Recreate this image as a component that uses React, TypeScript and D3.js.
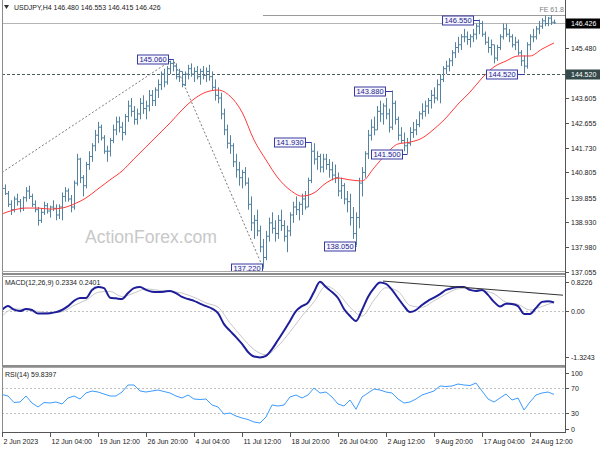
import React from "react";
import * as d3 from "d3";

// ---------- data ----------
const symbolTitle = "USDJPY,H4  146.480 146.553 146.415 146.426";
const macdTitle = "MACD(12,26,9) 0.2334 0.2401";
const rsiTitle = "RSI(14) 59.8397";
const watermark = "ActionForex.com";

const xLabels = [
  "2 Jun 2023", "12 Jun 04:00", "19 Jun 12:00", "26 Jun 20:00", "4 Jul 04:00", "11 Jul 12:00",
  "18 Jul 20:00", "26 Jul 04:00", "2 Aug 12:00", "9 Aug 20:00", "17 Aug 04:00", "24 Aug 12:00",
];
const xLabelEvery = 16; // slots between time labels

const firstOpen = 140.3;
const highs = [
  140.45, 140.35, 140.1, 139.75, 139.9, 140.0, 139.8, 139.9, 140.25, 140.3,
  140.0, 139.75, 139.5, 139.45, 139.7, 139.65, 139.55, 139.75, 139.6, 139.6,
  140.05, 140.25, 140.2, 139.95, 140.5, 141.5, 141.35, 140.7, 141.2, 141.6,
  141.9, 142.4, 142.7, 142.6, 142.2, 141.8, 142.1, 142.6, 142.9, 142.9,
  142.7, 143.0, 143.5, 143.6, 143.3, 143.2, 143.6, 143.7, 143.5, 143.9,
  143.9, 144.0, 144.3, 144.6, 144.7, 144.8, 145.0, 145.06, 144.9, 144.7,
  144.6, 144.6, 144.85, 144.9, 144.75, 144.8, 144.7, 144.8, 144.75, 144.85,
  144.6, 144.3, 144.0, 143.8, 143.2, 142.6, 142.2, 141.9, 141.5, 141.2,
  140.9, 141.0, 140.6, 139.9, 139.2, 139.4, 138.8, 138.3, 138.6, 139.1,
  139.3, 139.0, 139.2, 139.4, 139.0, 138.8, 139.3, 139.7, 139.9, 139.7,
  140.0, 140.1, 140.6, 141.93, 141.9, 141.6, 141.5, 141.5, 141.5, 141.3,
  141.2, 141.1, 140.8, 140.6, 140.4, 140.1, 140.0, 139.5, 139.3, 140.6,
  141.0, 141.6, 142.4, 142.8, 142.9, 143.3, 143.5, 143.4, 143.6, 143.2,
  143.88, 143.5, 142.9, 142.5, 142.3, 142.1, 142.5, 142.7, 142.8, 143.1,
  143.4, 143.5, 143.6, 143.9, 144.0, 144.3, 144.5, 144.8, 145.0, 145.1,
  145.4, 145.7, 145.9, 146.0, 146.2, 146.1, 146.0, 146.2, 146.4, 146.55,
  146.5, 146.1, 145.9, 145.8, 145.6, 145.6, 146.0, 146.4, 146.4, 146.2,
  146.0, 145.9, 145.8, 145.4, 145.2, 145.7, 146.0, 146.2, 146.3, 146.5,
  146.6, 146.7, 146.65, 146.72, 146.55,
];
const lows = [
  140.0, 139.95, 139.5, 139.2, 139.3, 139.55, 139.3, 139.35, 139.7, 139.8,
  139.5, 139.3, 138.8, 138.9, 139.2, 139.25, 139.1, 139.35, 139.0, 139.05,
  139.0, 139.7, 139.7, 139.3, 139.4, 140.3, 140.4, 139.9, 140.2, 140.9,
  141.2, 141.6, 141.9, 142.0, 141.5, 141.2, 141.4, 141.9, 142.2, 142.3,
  142.0, 142.2, 142.7, 142.9, 142.6, 142.6, 142.8, 143.0, 142.8, 143.1,
  143.3, 143.3, 143.6, 143.9, 144.0, 144.1, 144.5, 144.6, 144.3, 144.2,
  144.0, 144.05, 144.3, 144.4, 144.2, 144.3, 144.1, 144.3, 144.2, 144.25,
  143.9, 143.5, 143.4, 142.8, 142.2, 141.7, 141.5, 141.0, 140.6, 140.3,
  140.2, 140.3, 139.4, 138.6, 138.3, 138.4, 137.8, 137.22, 137.5, 138.2,
  138.5, 138.2, 138.3, 138.6, 138.2, 137.8, 138.4, 138.9, 139.2, 139.0,
  139.2, 139.4, 139.5, 140.4, 141.1, 140.9, 140.8, 140.8, 140.9, 140.6,
  140.5, 140.4, 139.9, 139.8, 139.6, 139.3, 138.8, 138.3, 138.05, 138.7,
  139.9, 140.6, 141.3, 142.0, 142.2, 142.4, 142.7, 142.6, 142.8, 142.3,
  142.4, 142.6, 142.0, 141.9, 141.6, 141.5, 141.8, 142.1, 142.2, 142.5,
  142.8, 142.9, 143.0, 143.2, 143.4, 143.5, 143.4, 144.2, 144.5, 144.6,
  144.8, 145.1, 145.3, 145.4, 145.7, 145.6, 145.5, 145.7, 145.8, 146.0,
  145.9, 145.6, 145.3, 145.2, 144.9, 145.0, 145.4, 145.8, 145.9, 145.7,
  145.5, 145.4, 145.2, 144.8, 144.52, 144.7, 145.4, 145.7, 145.8, 146.0,
  146.2, 146.3, 146.3, 146.35, 146.38,
];
const closes = [
  140.2, 140.0, 139.6, 139.4, 139.8, 139.7, 139.45, 139.85, 140.1, 139.9,
  139.6, 139.4, 139.0, 139.3, 139.55, 139.35, 139.5, 139.45, 139.2, 139.5,
  139.9, 140.1, 139.8, 139.5, 140.4, 141.3, 140.6, 140.3, 141.1, 141.4,
  141.8, 142.2, 142.5, 142.1, 141.6, 141.6, 142.0, 142.4, 142.7, 142.5,
  142.3, 142.9, 143.3, 143.1, 142.8, 143.0, 143.4, 143.2, 143.3, 143.7,
  143.5, 143.9, 144.1, 144.5, 144.2, 144.7, 144.9, 144.8, 144.4, 144.6,
  144.1, 144.5, 144.7, 144.5, 144.6, 144.4, 144.6, 144.45, 144.6, 144.4,
  144.0, 143.7, 143.6, 143.0, 142.4, 141.9, 141.8, 141.2, 140.9, 140.6,
  140.8, 140.4, 139.6, 138.9, 139.0, 138.6, 138.0, 137.6, 138.4, 138.9,
  138.7, 138.5, 139.0, 138.8, 138.4, 138.6, 139.2, 139.5, 139.4, 139.6,
  139.8, 139.5, 140.5, 141.6, 141.3, 141.4, 141.0, 141.3, 141.1, 140.9,
  140.7, 140.6, 140.1, 140.3, 139.8, 139.7, 139.1, 138.5, 139.1, 140.4,
  140.8, 141.5, 142.2, 142.5, 142.4, 143.1, 143.0, 143.3, 143.0, 142.5,
  143.4, 142.8, 142.2, 142.0, 141.8, 141.9, 142.3, 142.4, 142.6, 143.0,
  143.1, 143.3, 143.5, 143.7, 143.6, 144.1, 144.3, 144.7, 144.8, 145.0,
  145.3, 145.5, 145.6, 145.9, 145.9, 145.8, 145.9, 146.0, 146.3, 146.4,
  146.0, 145.7, 145.5, 145.6, 145.1, 145.5, 145.9, 146.2, 146.0, 145.9,
  145.6, 145.7, 145.3, 145.0, 144.8, 145.6, 145.9, 145.9, 146.2, 146.3,
  146.5, 146.4, 146.6, 146.45, 146.426,
];

// moving average (red), one value every 4 slots
const maStep = 4;
const maValues = [
  139.24, 139.39, 139.46, 139.46, 139.42, 139.46, 139.61, 139.84, 140.18, 140.52,
  140.85, 141.31, 141.76, 142.21, 142.66, 143.15, 143.56, 143.82, 143.9, 143.67,
  143.07, 142.02, 141.27, 140.59, 140.14, 139.91, 140.03, 140.4, 140.59, 140.52,
  140.48, 140.97, 141.49, 141.87, 141.94, 142.09, 142.43, 142.85, 143.37, 143.82,
  144.35, 144.77, 144.99, 145.18, 145.18, 145.44, 145.67,
];

// MACD main line, one value every 2 slots
const macdStep = 2;
const macdValues = [
  0.02, 0.13, 0.03, -0.01, 0.05, 0.02, -0.08, -0.08, -0.07, -0.04,
  0.02, 0.13, 0.28, 0.36, 0.36, 0.59, 0.67, 0.64, 0.37, 0.35,
  0.33, 0.5, 0.64, 0.67, 0.59, 0.54, 0.53, 0.54, 0.56, 0.5,
  0.39, 0.33, 0.28, 0.2, 0.13, 0.06, -0.07, -0.38, -0.57, -0.75,
  -0.94, -1.17, -1.3, -1.3243, -1.28, -1.09, -0.83, -0.57, -0.29, -0.01,
  0.13, 0.23, 0.53, 0.8226, 0.67, 0.53, 0.36, 0.05, -0.15, -0.29,
  0.02, 0.39, 0.64, 0.8, 0.76, 0.59, 0.36, 0.13, -0.04, 0.02,
  0.16, 0.28, 0.37, 0.47, 0.59, 0.64, 0.67, 0.67, 0.59, 0.56,
  0.59, 0.45, 0.25, 0.12, 0.2, 0.19, 0.13, -0.09, -0.09, 0.08,
  0.25, 0.27, 0.2334,
];
// MACD signal line, one value every 4 slots
const signalStep = 4;
const signalValues = [
  -0.15, 0.05, 0.03, -0.02, -0.06, -0.03, 0.15, 0.3, 0.52, 0.55,
  0.4, 0.5, 0.62, 0.58, 0.55, 0.5, 0.38, 0.22, 0.1, -0.35,
  -0.75, -1.1, -1.25, -1.0, -0.6, -0.15, 0.25, 0.7, 0.5, 0.1,
  -0.15, 0.3, 0.65, 0.55, 0.15, 0.1, 0.28, 0.47, 0.62, 0.64,
  0.58, 0.48, 0.24, 0.18, 0.02, 0.12, 0.2401,
];
const macdMax = 0.8226;
const macdMin = -1.3243;
// MACD trend line: [slot, value] end points
const macdTrendSlots = [127, 187];
const macdTrendValues = [0.84, 0.44];

// RSI(14), one value every 2 slots
const rsiStep = 2;
const rsiValues = [
  59.6, 57.2, 46.8, 47.6, 57.2, 46, 39.6, 46.8, 46, 47.6,
  44.4, 54, 57.2, 52.4, 62, 65.2, 63.6, 60.4, 57.2, 57.2,
  63.6, 74.8, 74.8, 65.2, 63.6, 65.2, 66.8, 64.4, 62, 57.2,
  54, 58.8, 52.4, 51.6, 52.4, 42.8, 39.6, 28.4, 30, 25.2,
  22, 19.6, 15.6, 14, 23.6, 42.8, 41.2, 42.8, 55.6, 58.8,
  54, 58.8, 70, 62, 63.6, 55.6, 44.4, 41.2, 50.8, 36,
  55.6, 62, 68.4, 66.8, 63.6, 62, 52.4, 46, 47.6, 52.4,
  58.8, 62, 65.2, 73.2, 72.4, 73.2, 76.4, 74.8, 74, 78,
  65.2, 52.4, 47.6, 54, 60.4, 50.8, 54, 34.8, 47.6, 58.8,
  62, 63.6, 59.84,
];
const rsiLevels = [70, 30];
const rsiAxisLabels = [100, 70, 30, 0];

// price axis
const priceTicks = [145.48, 143.605, 142.655, 141.73, 140.805, 139.855, 138.93, 137.98, 137.055];
const bidPrice = 146.426;
const supportLevel = 144.52;

// swing labels
const swingSlots = [57, 87, 103, 118, 130, 135, 159, 174];
const swingValues = [145.06, 137.22, 141.93, 138.05, 143.88, 141.5, 146.55, 144.52];

// Fibonacci expansion
const feSlots = [0, 57, 87];
const fePrices = [140.8, 145.06, 137.22];
const feLevelValue = 146.72;
const feLevelName = "FE 61.8";

// ---------- layout / style ----------
const FONT = "'Liberation Sans', Arial, sans-serif";
const AXIS_X = 565;
const swingGaps = [5, 1, 6, 1, 7, 5, 6, 7];

export default function App() {
  const xs = d3.scaleLinear().domain([0, 184]).range([2, 554]);
  const ym = d3.scaleLinear().domain([137.055, 145.48]).range([272, 48]);
  const yMacd = d3.scaleLinear().domain([macdMin, macdMax]).range([357.4, 281.7]);
  const yRsi = d3.scaleLinear().domain([30, 70]).range([413, 388]);
  const px = (i: number) => Math.round(xs(i)) + 0.5;

  // OHLC bars
  const barPath = highs
    .map((h, i) => {
      const o = i === 0 ? firstOpen : closes[i - 1];
      const c = closes[i];
      const hi = Math.max(h, o, c);
      const lo = Math.min(lows[i], o, c);
      const x = px(i);
      return `M${x},${ym(hi).toFixed(1)}V${ym(lo).toFixed(1)}M${x - 1.5},${ym(o).toFixed(1)}H${x}M${x},${ym(c).toFixed(1)}H${x + 1.5}`;
    })
    .join("");

  const maLine = d3
    .line<number>()
    .x((_, i) => xs(i * maStep))
    .y((d) => ym(d))
    .curve(d3.curveMonotoneX)(maValues) as string;

  const macdLine = d3
    .line<number>()
    .x((_, i) => xs(i * macdStep))
    .y((d) => yMacd(d))
    .curve(d3.curveMonotoneX)(macdValues) as string;

  const signalLine = d3
    .line<number>()
    .x((_, i) => xs(i * signalStep))
    .y((d) => yMacd(d))
    .curve(d3.curveMonotoneX)(signalValues) as string;

  const rsiLine = d3
    .line<number>()
    .x((_, i) => xs(i * rsiStep))
    .y((d) => yRsi(d))(rsiValues) as string;

  const fePath = d3
    .line<number>()
    .x((_, i) => xs(feSlots[i]))
    .y((d) => ym(d))(fePrices) as string;

  const textStyle = { fontFamily: FONT, fontSize: 7, fill: "#1a1a1a" } as const;

  return (
    <svg
      width={600}
      height={450}
      viewBox="0 0 600 450"
      style={{ position: "absolute", left: 0, top: 0, background: "#fff" }}
    >
      <defs>
        <clipPath id="clipMain">
          <rect x={2} y={0} width={AXIS_X - 2} height={272} />
        </clipPath>
        <clipPath id="clipMacd">
          <rect x={2} y={276} width={AXIS_X - 2} height={89} />
        </clipPath>
        <clipPath id="clipRsi">
          <rect x={2} y={368} width={AXIS_X - 2} height={64} />
        </clipPath>
      </defs>
      <rect x={0} y={0} width={600} height={450} fill="#fff" />

      {/* ---------- main panel ---------- */}
      <g clipPath="url(#clipMain)">
        {/* support dashed */}
        <line x1={2} x2={AXIS_X} y1={Math.round(ym(supportLevel)) + 0.5} y2={Math.round(ym(supportLevel)) + 0.5}
          stroke="#4a5e5e" strokeDasharray="3,2" strokeWidth={1} />
        {/* bid line */}
        <line x1={2} x2={AXIS_X} y1={Math.round(ym(bidPrice)) + 0.5} y2={Math.round(ym(bidPrice)) + 0.5}
          stroke="#b4b4b4" strokeWidth={1} />
        {/* FE level */}
        <line x1={xs(feSlots[2])} x2={AXIS_X} y1={Math.round(ym(feLevelValue)) + 0.5} y2={Math.round(ym(feLevelValue)) + 0.5}
          stroke="#9a9a9a" strokeWidth={1} />
        <path d={fePath} fill="none" stroke="#7a7a7a" strokeWidth={1} strokeDasharray="2,2" />
        <text x={AXIS_X - 1} y={ym(feLevelValue) - 3} textAnchor="end" style={{ ...textStyle, fill: "#808080" }}>
          {feLevelName}
        </text>
        {/* watermark */}
        <text x={85} y={243} style={{ fontFamily: FONT, fontSize: 17.6, fill: "#c8c8c8" }}>{watermark}</text>
        {/* bars */}
        <path d={barPath} fill="none" stroke="#5383a0" strokeWidth={1} />
        {/* MA */}
        <path d={maLine} fill="none" stroke="#ff3b3b" strokeWidth={1} />
        {/* swing labels */}
        {swingSlots.map((s, i) => {
          const bx = px(s);
          const y = Math.round(ym(swingValues[i])) + 0.5;
          const right = bx - swingGaps[i];
          const w = 31;
          return (
            <g key={i}>
              <line x1={right} x2={bx} y1={y} y2={y} stroke="#3a3aa0" strokeWidth={1} />
              <rect x={right - w} y={y - 4.5} width={w} height={9} fill="#f6f6ff" stroke="#3a3aa0" strokeWidth={1} />
              <text x={right - w / 2} y={y + 2.6} textAnchor="middle"
                style={{ fontFamily: FONT, fontSize: 7.5, fill: "#23238a" }}>
                {swingValues[i].toFixed(3)}
              </text>
            </g>
          );
        })}
      </g>
      {/* title */}
      <rect x={2} y={1} width={170} height={12} fill="#fff" />
      <path d="M4,5 L9,5 L6.5,9 Z" fill="#333" />
      <text x={14} y={10} style={textStyle}>{symbolTitle}</text>

      {/* ---------- MACD panel ---------- */}
      <g clipPath="url(#clipMacd)">
        <line x1={2} x2={AXIS_X} y1={Math.round(yMacd(0)) + 0.5} y2={Math.round(yMacd(0)) + 0.5}
          stroke="#c0c0c0" strokeDasharray="2,2" />
        <path d={signalLine} fill="none" stroke="#c8c8c8" strokeWidth={1} />
        <path d={macdLine} fill="none" stroke="#1e1e9a" strokeWidth={2} />
        <line x1={xs(macdTrendSlots[0])} x2={xs(macdTrendSlots[1])}
          y1={yMacd(macdTrendValues[0])} y2={yMacd(macdTrendValues[1])} stroke="#333" strokeWidth={1} />
      </g>
      <text x={5} y={285} style={textStyle}>{macdTitle}</text>

      {/* ---------- RSI panel ---------- */}
      <g clipPath="url(#clipRsi)">
        {rsiLevels.map((l) => (
          <line key={l} x1={2} x2={AXIS_X} y1={Math.round(yRsi(l)) + 0.5} y2={Math.round(yRsi(l)) + 0.5}
            stroke="#c0c0c0" strokeDasharray="2,2" />
        ))}
        <path d={rsiLine} fill="none" stroke="#3d9bff" strokeWidth={1} />
      </g>
      <text x={5} y={377} style={textStyle}>{rsiTitle}</text>

      {/* ---------- frames ---------- */}
      <line x1={2.5} x2={2.5} y1={0} y2={432} stroke="#8a8a8a" />
      <line x1={2} x2={AXIS_X} y1={271.5} y2={271.5} stroke="#a8a8a8" />
      <rect x={2} y={273} width={AXIS_X - 2} height={2} fill="#8c8c8c" />
      <line x1={2} x2={AXIS_X} y1={276.5} y2={276.5} stroke="#a8a8a8" />
      <rect x={2} y={365} width={AXIS_X - 2} height={2} fill="#8c8c8c" />
      <line x1={2} x2={AXIS_X} y1={367.5} y2={367.5} stroke="#a8a8a8" />
      <line x1={2} x2={AXIS_X + 0.5} y1={432.5} y2={432.5} stroke="#555" />
      <line x1={AXIS_X + 0.5} x2={AXIS_X + 0.5} y1={0} y2={433} stroke="#555" />

      {/* ---------- right axis: price ---------- */}
      {priceTicks.map((t) => {
        const y = Math.round(ym(t)) + 0.5;
        return (
          <g key={t}>
            <line x1={AXIS_X} x2={AXIS_X + 4} y1={y} y2={y} stroke="#555" />
            <text x={AXIS_X + 6} y={y + 2.5} style={textStyle}>{t.toFixed(3)}</text>
          </g>
        );
      })}
      {[{ v: bidPrice, bg: "#000" }, { v: supportLevel, bg: "#34494a" }].map(({ v, bg }) => {
        const y = Math.round(ym(v)) + 0.5;
        return (
          <g key={v}>
            <rect x={AXIS_X + 1} y={y - 5} width={34} height={10} fill={bg} />
            <text x={AXIS_X + 6} y={y + 2.5} style={{ ...textStyle, fill: "#fff" }}>{v.toFixed(3)}</text>
          </g>
        );
      })}

      {/* ---------- right axis: MACD ---------- */}
      {[macdMax, 0, macdMin].map((v) => {
        const y = Math.round(yMacd(v)) + 0.5;
        return (
          <g key={v}>
            <line x1={AXIS_X} x2={AXIS_X + 4} y1={y} y2={y} stroke="#555" />
            <text x={AXIS_X + 6} y={y + 2.5} style={textStyle}>{v === 0 ? "0.00" : v.toFixed(4)}</text>
          </g>
        );
      })}

      {/* ---------- right axis: RSI ---------- */}
      {rsiAxisLabels.map((v) => {
        const yy = Math.round(yRsi(v)) + 0.5;
        const y = v === 100 ? yy + 4 : v === 0 ? yy - 3 : yy;
        return (
          <g key={v}>
            <line x1={AXIS_X} x2={AXIS_X + 4} y1={y} y2={y} stroke="#555" />
            <text x={AXIS_X + 6} y={y + 2.5} style={textStyle}>{v}</text>
          </g>
        );
      })}

      {/* ---------- time axis ---------- */}
      {xLabels.map((l, i) => {
        const x = px(i * xLabelEvery);
        return (
          <g key={l}>
            <line x1={x} x2={x} y1={432} y2={437} stroke="#555" />
            <text x={x + 1} y={444} style={textStyle}>{l}</text>
          </g>
        );
      })}
    </svg>
  );
}
